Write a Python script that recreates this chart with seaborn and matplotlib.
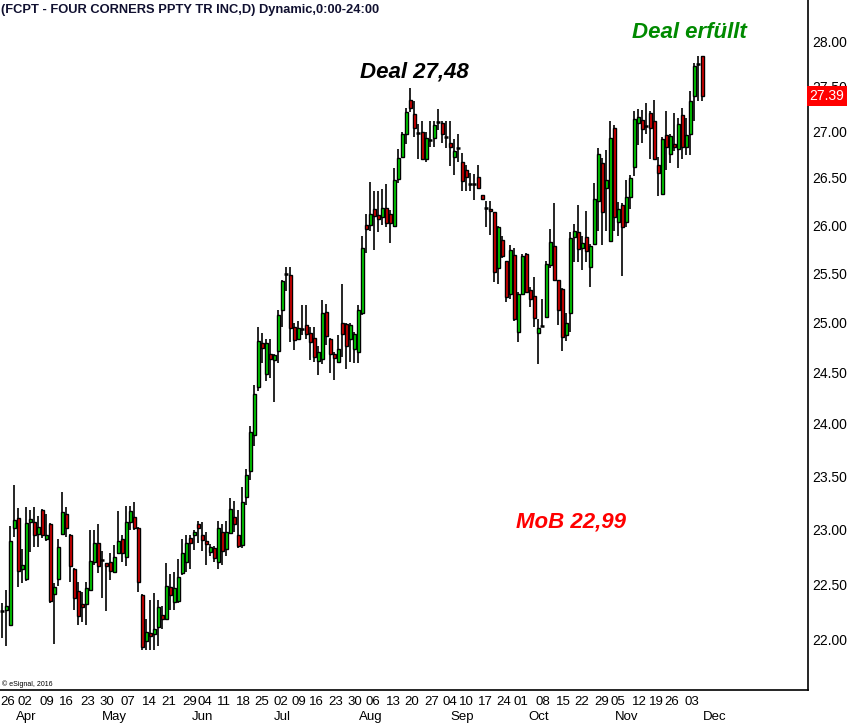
import numpy as np
import pandas as pd
import matplotlib
matplotlib.use('Agg')
import matplotlib.pyplot as plt
import seaborn as sns
from matplotlib.ticker import FixedLocator, NullLocator, FormatStrFormatter

# Tageskerzen FCPT
opens = [22.26, 22.27, 22.13, 23.01, 23.11, 22.64, 22.55, 23.07, 23.07, 22.96,
         23.18, 22.91, 23.05, 22.41, 22.55, 22.96, 23.14, 22.95, 22.64, 22.44,
         22.32, 22.32, 22.45, 22.70, 22.88, 22.72, 22.69, 22.70, 22.61, 22.78,
         22.91, 22.75, 23.07, 23.12, 23.01, 22.40, 21.99, 22.06, 22.05, 22.11,
         22.22, 22.19, 22.47, 22.34, 22.35, 22.60, 22.70, 22.92, 22.95, 23.05,
         22.95, 22.89, 22.79, 22.83, 22.70, 22.98, 22.82, 22.97, 23.12, 22.95,
         22.86, 23.30, 23.55, 23.89, 24.36, 24.80, 24.49, 24.69, 24.63, 24.72,
         25.13, 25.49, 25.48, 24.96, 24.84, 24.94, 24.98, 24.90, 24.85, 24.62,
         24.64, 25.11, 24.84, 24.69, 24.61, 25.00, 24.99, 24.84, 24.74, 24.71,
         25.10, 26.00, 26.00, 26.17, 26.11, 26.09, 26.18, 26.12, 25.99, 26.49,
         26.72, 26.97, 27.35, 27.19, 26.98, 26.99, 26.70, 26.91, 26.93, 27.10,
         27.09, 26.94, 26.88, 26.72, 26.82, 26.67, 26.59, 26.44, 26.44, 26.51,
         26.32, 26.18, 26.17, 26.14, 25.56, 25.85, 25.63, 25.29, 25.69, 24.91,
         25.29, 25.70, 25.33, 25.27, 24.90, 24.97, 25.06, 25.59, 25.78, 25.43,
         25.34, 24.88, 25.10, 25.88, 25.93, 25.76, 25.88, 25.57, 25.80, 26.26,
         26.66, 26.39, 25.84, 27.04, 26.03, 26.21, 26.03, 26.30, 26.62, 27.09,
         27.13, 27.06, 27.20, 27.12, 26.64, 26.33, 26.96, 26.76, 26.87, 26.81,
         27.18, 26.83, 26.97, 27.39, 27.75, 27.83]
highs = [22.33, 22.45, 23.03, 23.42, 23.20, 22.82, 23.21, 23.18, 23.21, 23.13,
         23.19, 23.14, 23.06, 22.51, 22.91, 23.35, 23.21, 22.96, 22.65, 22.52,
         22.43, 22.52, 23.00, 23.00, 23.05, 22.80, 22.69, 22.78, 22.86, 23.17,
         22.95, 23.22, 23.22, 23.26, 23.02, 22.41, 22.19, 22.36, 22.42, 22.36,
         22.30, 22.69, 22.59, 22.61, 22.73, 22.91, 22.95, 22.95, 23.00, 23.08,
         23.07, 22.98, 22.87, 22.85, 23.08, 23.05, 23.08, 23.29, 23.27, 23.18,
         23.40, 23.57, 23.98, 24.38, 24.96, 24.90, 24.84, 24.84, 24.69, 25.13,
         25.43, 25.57, 25.57, 25.00, 25.02, 25.18, 25.18, 24.96, 24.96, 24.77,
         25.23, 25.19, 24.85, 24.71, 24.88, 25.39, 25.00, 25.00, 24.91, 25.18,
         25.89, 26.12, 26.46, 26.36, 26.36, 26.38, 26.44, 26.16, 26.61, 26.81,
         26.99, 27.26, 27.48, 27.33, 27.08, 27.12, 27.00, 27.12, 27.12, 27.25,
         27.12, 27.12, 27.12, 26.92, 26.97, 26.77, 26.64, 26.55, 26.54, 26.64,
         26.32, 26.26, 26.26, 26.14, 25.99, 25.89, 25.63, 25.79, 25.76, 25.31,
         25.70, 25.71, 25.36, 25.46, 25.04, 25.24, 25.63, 25.96, 26.23, 25.43,
         25.35, 25.10, 25.93, 26.01, 26.21, 25.89, 26.15, 25.80, 26.45, 26.82,
         26.71, 26.80, 27.11, 27.07, 26.24, 26.23, 26.48, 26.53, 27.23, 27.25,
         27.24, 27.31, 27.22, 27.35, 26.73, 26.94, 27.22, 26.97, 27.20, 27.15,
         27.26, 27.15, 27.45, 27.76, 27.84, 27.83]
lows = [22.02, 21.95, 22.12, 22.93, 22.47, 22.51, 22.53, 22.79, 22.84, 22.84,
        22.92, 22.89, 22.33, 21.96, 22.48, 22.95, 22.93, 22.52, 22.27, 22.13,
        22.16, 22.13, 22.44, 22.67, 22.60, 22.37, 22.26, 22.54, 22.60, 22.77,
        22.70, 22.66, 23.00, 23.00, 22.43, 21.91, 21.91, 21.91, 21.91, 21.95,
        22.10, 22.18, 22.27, 22.27, 22.33, 22.58, 22.61, 22.64, 22.81, 22.88,
        22.80, 22.67, 22.76, 22.70, 22.64, 22.67, 22.76, 22.96, 22.98, 22.83,
        22.83, 23.23, 23.46, 23.79, 24.32, 24.60, 24.42, 24.45, 24.21, 24.60,
        24.96, 25.32, 24.81, 24.73, 24.83, 24.88, 24.84, 24.63, 24.61, 24.48,
        24.59, 24.78, 24.50, 24.43, 24.60, 24.66, 24.54, 24.61, 24.60, 24.60,
        25.08, 25.71, 25.94, 25.74, 25.93, 26.00, 25.98, 25.81, 25.98, 26.45,
        26.71, 26.87, 27.21, 26.94, 26.70, 26.69, 26.67, 26.83, 26.83, 27.02,
        26.88, 26.82, 26.63, 26.53, 26.67, 26.36, 26.36, 26.36, 26.27, 26.38,
        26.27, 25.98, 25.90, 25.41, 25.39, 25.66, 25.21, 25.24, 25.02, 24.81,
        25.28, 25.30, 25.16, 24.96, 24.59, 24.97, 25.06, 25.56, 25.42, 24.98,
        24.72, 24.82, 24.91, 25.62, 25.62, 25.54, 25.62, 25.36, 25.80, 25.94,
        25.79, 25.94, 25.84, 25.94, 25.89, 25.47, 25.98, 26.17, 26.52, 26.85,
        26.88, 26.97, 26.70, 26.70, 26.31, 26.33, 26.58, 26.66, 26.79, 26.61,
        26.70, 26.75, 26.75, 27.12, 27.33, 27.33]
closes = [22.26, 22.30, 22.89, 23.09, 22.62, 22.67, 23.06, 23.10, 22.95, 23.02,
          22.95, 22.95, 22.35, 22.47, 22.84, 23.16, 23.01, 22.66, 22.37, 22.21,
          22.29, 22.46, 22.71, 22.88, 22.66, 22.72, 22.66, 22.62, 22.75, 22.89,
          22.78, 23.07, 23.17, 23.01, 22.52, 21.94, 22.07, 22.03, 22.10, 22.29,
          22.19, 22.48, 22.40, 22.46, 22.56, 22.78, 22.88, 22.88, 22.98, 23.01,
          22.90, 22.87, 22.84, 22.74, 23.01, 22.80, 22.98, 23.19, 23.05, 22.85,
          23.26, 23.51, 23.92, 24.29, 24.82, 24.75, 24.80, 24.64, 24.68, 25.08,
          25.42, 25.49, 24.95, 24.83, 24.95, 24.94, 24.89, 24.81, 24.66, 24.71,
          25.10, 24.87, 24.69, 24.65, 24.74, 24.89, 24.77, 24.98, 24.89, 25.13,
          25.76, 25.96, 26.12, 26.10, 26.07, 26.18, 26.02, 26.02, 26.48, 26.71,
          26.97, 27.21, 27.26, 27.04, 26.98, 26.70, 26.93, 26.91, 27.07, 27.10,
          26.97, 26.94, 26.83, 26.79, 26.82, 26.47, 26.51, 26.44, 26.44, 26.39,
          26.28, 26.18, 26.15, 25.51, 25.98, 25.68, 25.26, 25.74, 25.04, 25.29,
          25.68, 25.31, 25.24, 25.05, 24.95, 24.97, 25.60, 25.82, 25.43, 25.13,
          24.86, 25.00, 25.87, 25.94, 25.75, 25.81, 25.73, 25.78, 26.28, 26.76,
          26.14, 26.48, 26.93, 26.09, 26.17, 25.98, 26.30, 26.50, 27.14, 27.16,
          27.03, 27.06, 27.04, 26.70, 26.55, 26.92, 26.83, 26.95, 26.83, 27.08,
          26.83, 26.96, 27.34, 27.72, 27.75, 27.39]

# Achsenbeschriftung
day_labels = ['26', '02', '09', '16', '23', '30', '07', '14', '21', '29', '04',
              '11', '18', '25', '02', '09', '16', '23', '30', '06', '13', '20',
              '27', '04', '10', '17', '24', '01', '08', '15', '22', '29', '05',
              '12', '19', '26', '03']
day_pos = [1.4, 5.7, 11, 16, 21.2, 26.2, 31.4, 36.7, 41.7, 46.7, 50.7, 55.4,
           60.2, 64.9, 69.7, 74.2, 78.4, 83.2, 88.2, 92.7, 97.7, 102.4, 107.2,
           111.9, 115.9, 120.7, 125.4, 129.7, 135.2, 140.2, 144.9, 149.7, 153.9,
           159.2, 163.4, 167.2, 172.4]
month_labels = ['Apr', 'May', 'Jun', 'Jul', 'Aug', 'Sep', 'Oct', 'Nov', 'Dec']
month_pos = [6, 28, 50, 70, 92, 115, 134, 156, 178]
price_ticks = [22.0, 22.5, 23.0, 23.5, 24.0, 24.5, 25.0, 25.5, 26.0, 26.5,
               27.0, 27.5, 28.0]
last_price = 27.39

df = pd.DataFrame({'open': opens, 'high': highs, 'low': lows, 'close': closes})
df['idx'] = np.arange(len(df))
df['bottom'] = df[['open', 'close']].min(axis=1)
df['height'] = (df['close'] - df['open']).abs()

sns.set_theme(style='white')
plt.rcParams['font.family'] = ['Liberation Sans', 'DejaVu Sans']

fig = plt.figure(figsize=(8.47, 7.25), dpi=100)
ax = fig.add_axes([0, 35 / 725, 808 / 847, 690 / 725])
ax.set_yscale('log')

GREEN = '#00dd00'
RED = '#e00000'

# Dochte
ax.vlines(df['idx'], df['low'], df['high'], color='black', linewidth=1.2, zorder=1)

up = df[df['close'] > df['open']]
down = df[df['close'] < df['open']]
flat = df[df['close'] == df['open']]
ax.bar(up['idx'], up['height'], bottom=up['bottom'], width=0.8, color=GREEN,
       edgecolor='black', linewidth=1.0, zorder=2)
ax.bar(down['idx'], down['height'], bottom=down['bottom'], width=0.8, color=RED,
       edgecolor='black', linewidth=1.0, zorder=2)
ax.hlines(flat['close'], flat['idx'] - 0.5, flat['idx'] + 0.5, color='black',
          linewidth=1.8, zorder=2)

ax.set_xlim(-0.6, 201.4)
ax.set_ylim(21.56, 28.47)

# y-Achse rechts
ax.yaxis.tick_right()
ax.yaxis.set_major_locator(FixedLocator(price_ticks))
ax.yaxis.set_minor_locator(NullLocator())
ax.yaxis.set_major_formatter(FormatStrFormatter('%.2f'))
ax.tick_params(axis='y', length=0, pad=3, labelsize=10, labelcolor='black')

# x-Achse
ax.set_xticks(day_pos)
ax.set_xticklabels(day_labels)
ax.tick_params(axis='x', length=0, pad=4, labelsize=9.5, labelcolor='black')
for x, m in zip(month_pos, month_labels):
    ax.text(x, -0.039, m, transform=ax.get_xaxis_transform(), ha='center',
            va='center', fontsize=9.5, color='black')

for s in ['top', 'left']:
    ax.spines[s].set_visible(False)
for s in ['right', 'bottom']:
    ax.spines[s].set_color('black')
    ax.spines[s].set_linewidth(1.2)

# letzter Kurs (deckt 27.50 teilweise ab, wie im Original)
ax.text(1.002, last_price, '%.2f' % last_price, transform=ax.get_yaxis_transform(),
        ha='left', va='center', fontsize=10, color='white', zorder=5,
        bbox=dict(boxstyle='square,pad=0.2', fc='#ff0000', ec='none'))

# Beschriftungen
ax.text(103, 27.66, 'Deal 27,48', ha='center', va='center', fontsize=16,
        fontweight='bold', fontstyle='italic', color='black')
ax.text(171.7, 28.10, 'Deal erfüllt', ha='center', va='center', fontsize=16,
        fontweight='bold', fontstyle='italic', color='#008a00')
ax.text(142.2, 23.07, 'MoB 22,99', ha='center', va='center', fontsize=16,
        fontweight='bold', fontstyle='italic', color='#ff0000')

fig.text(0.001, 1 - 10 / 725, '(FCPT - FOUR CORNERS PPTY TR INC,D) Dynamic,0:00-24:00',
         ha='left', va='center', fontsize=9.3, fontweight='bold', color='#101030')
ax.text(0.002, 1 - 684 / 690, '© eSignal, 2016', transform=ax.transAxes,
        ha='left', va='center', fontsize=5, color='black')

fig.savefig('out.png', dpi=100)
